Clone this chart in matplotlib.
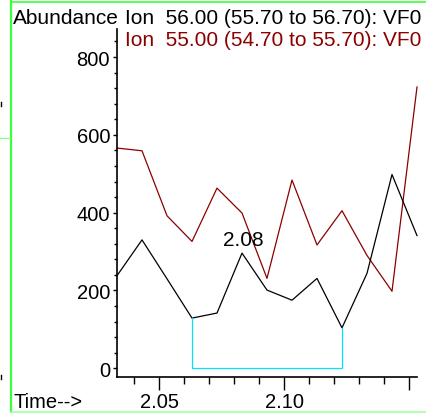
import matplotlib.pyplot as plt
from matplotlib.lines import Line2D
from matplotlib.ticker import MultipleLocator, FixedLocator

plt.rcParams['font.family'] = ['Liberation Sans', 'DejaVu Sans']

# scan times (min) and abundances
time = [2.0331, 2.0431, 2.0531, 2.0631, 2.0731, 2.0831, 2.0931,
        2.1031, 2.1131, 2.1231, 2.1331, 2.1431, 2.1531]
ion56 = [238, 330, 230, 129, 142, 296, 201, 175, 231, 104, 244, 498, 341]
ion55 = [566, 559, 392, 326, 463, 399, 231, 484, 317, 405, 290, 198, 723]

# integration baseline for the 2.08 peak
base_t = [2.0631, 2.0631, 2.1231, 2.1231]
base_y = [129, 0, 0, 104]
peak_label = '2.08'
peak_t = 2.0836
peak_y = 330

fig = plt.figure(figsize=(4.26, 4.14), dpi=100)
W, H = 426, 414
ax = fig.add_axes([117 / W, (H - 377.7) / H, 300 / W, 347.7 / H])

ax.plot(time, ion55, color='#8b0000', lw=0.9, clip_on=False)
ax.plot(time, ion56, color='black', lw=0.9, clip_on=False)
ax.plot(base_t, base_y, color='#00e5ff', lw=0.9)
ax.text(peak_t, peak_y, peak_label, ha='center', va='center', fontsize=15)

ax.set_xlim(2.0331, 2.1531)
ax.set_ylim(-21.6, 872)

for s in ['top', 'right']:
    ax.spines[s].set_visible(False)
for s in ['left', 'bottom']:
    ax.spines[s].set_linewidth(1.2)

ax.yaxis.set_minor_locator(MultipleLocator(40))
ax.set_yticks([0, 200, 400, 600, 800])
ax.xaxis.set_major_locator(FixedLocator([2.05, 2.10, 2.15]))
ax.set_xticklabels(['2.05', '2.10', ''])
ax.xaxis.set_minor_locator(MultipleLocator(0.01))
ax.tick_params(axis='y', which='major', length=3, width=1, pad=2, labelsize=14.5)
ax.tick_params(axis='y', which='minor', length=2, width=1)
ax.tick_params(axis='x', which='major', length=9, width=1, pad=2, labelsize=14.5)
ax.tick_params(axis='x', which='minor', length=5, width=1)

# header and axis captions
fig.text(13 / W, 1 - 23.5 / H, 'Abundance', fontsize=15, va='baseline')
fig.text(125 / W, 1 - 23.5 / H, 'Ion  56.00 (55.70 to 56.70): VF0',
         fontsize=15, va='baseline', color='black')
fig.text(125 / W, 1 - 46.5 / H, 'Ion  55.00 (54.70 to 55.70): VF0',
         fontsize=15, va='baseline', color='#8b0000')
fig.text(13 / W, 1 - 408 / H, 'Time-->', fontsize=14.5, va='baseline')

# green window frame
def px_line(xs, ys, color, lw):
    fig.add_artist(Line2D([x / W for x in xs], [1 - y / H for y in ys],
                          color=color, lw=lw, transform=fig.transFigure))

px_line([11, 11], [0, 414], '#3cff3c', 1.6)
px_line([11, 426], [3, 3], '#3cff3c', 1.2)
px_line([11, 426], [413, 413], '#a0ffa0', 1.2)
px_line([0, 10], [138.5, 138.5], '#80ff80', 0.8)
px_line([1, 1], [103, 107], 'black', 1.0)
px_line([1, 1], [376, 380], 'black', 1.0)

fig.savefig('out.png', dpi=100)
